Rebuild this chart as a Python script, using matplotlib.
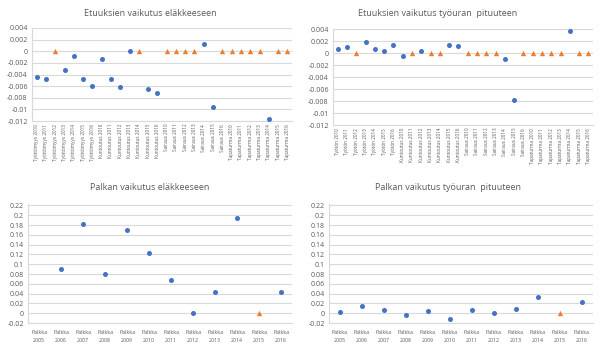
import numpy as np
from matplotlib import pyplot as plt
from matplotlib.ticker import FuncFormatter

nan = np.nan

# category labels
etu_cats1 = ([f"Työttömyys {y}" for y in range(2010, 2017)] +
             [f"Kuntoutus {y}" for y in range(2010, 2017)] +
             [f"Sairaus {y}" for y in range(2010, 2017)] +
             [f"Tapaturma {y}" for y in range(2010, 2017)])
etu_cats2 = ([f"Työtön {y}" for y in range(2010, 2017)] +
             [f"Kuntoutus {y}" for y in range(2010, 2017)] +
             [f"Sairaus {y}" for y in range(2010, 2017)] +
             [f"Tapaturma {y}" for y in range(2010, 2017)])
palkka_cats = [f"Palkka\n{y}" for y in range(2005, 2017)]

# Etuuksien vaikutus eläkkeeseen: blue = estimate, orange = zero/ns
etu_elake_est = [-0.0045, -0.0048, nan, -0.0033, -0.0008, -0.0047, -0.0060,
                 -0.0013, -0.0047, -0.0062, 0.0, nan, -0.0065, -0.0071,
                 nan, nan, nan, nan, 0.0012, -0.0096, nan,
                 nan, nan, nan, nan, -0.0116, nan, nan]
etu_elake_zero = [nan, nan, 0, nan, nan, nan, nan,
                  nan, nan, nan, nan, 0, nan, nan,
                  0, 0, 0, 0, nan, nan, 0,
                  0, 0, 0, 0, nan, 0, 0]

# Etuuksien vaikutus työuran pituuteen
etu_tyo_est = [0.0006, 0.0010, nan, 0.0019, 0.0007, 0.0003, 0.0014,
               -0.0005, nan, 0.0004, nan, nan, 0.0013, 0.0012,
               nan, nan, nan, nan, -0.0010, -0.0079, nan,
               nan, nan, nan, nan, 0.0037, nan, nan]
etu_tyo_zero = [nan, nan, 0, nan, nan, nan, nan,
                nan, 0, nan, 0, 0, nan, nan,
                0, 0, 0, 0, nan, nan, 0,
                0, 0, 0, 0, nan, 0, 0]

# Palkan vaikutus
palkka_elake_est = [nan, 0.090, 0.183, 0.081, 0.170, 0.122, 0.068, 0.001,
                    0.043, 0.195, nan, 0.044]
palkka_tyo_est = [0.003, 0.015, 0.006, -0.003, 0.005, -0.012, 0.006, 0.001,
                  0.008, 0.034, nan, 0.022]
palkka_zero = [nan, nan, nan, nan, nan, nan, nan, nan, nan, nan, 0, nan]

W, H = 602, 348
fig = plt.figure(figsize=(W / 100, H / 100), dpi=100)
plt.rcParams['font.family'] = ['Open Sans', 'DejaVu Sans']

BLUE = '#4472C4'
ORANGE = '#ED7D31'
GRID = '#D9D9D9'
TXT = '#595959'


def fmt(v, pos):
    v = round(v, 6)
    if v == 0:
        return "0"
    return f"{v:g}"


def make_ax(l, r, t, b):
    return fig.add_axes([l / W, 1 - b / H, (r - l) / W, (b - t) / H])


def style(ax, cats, ylo, yhi, step, rot, fs, xpad):
    ax.set_xlim(-0.5, len(cats) - 0.5)
    ax.set_ylim(ylo, yhi)
    ax.set_yticks(np.arange(ylo, yhi + step / 2, step))
    ax.yaxis.set_major_formatter(FuncFormatter(fmt))
    ax.set_xticks(range(len(cats)))
    ax.set_xticklabels(cats, rotation=rot, fontsize=fs, color=TXT,
                       linespacing=1.7)
    ax.tick_params(axis='y', labelsize=5, colors=TXT, length=0, pad=3)
    ax.tick_params(axis='x', length=0, pad=xpad)
    ax.grid(axis='y', color=GRID, linewidth=0.8)
    ax.set_axisbelow(True)
    for s in ['top', 'right']:
        ax.spines[s].set_visible(False)
    for s in ['left', 'bottom']:
        ax.spines[s].set_color(GRID)
        ax.spines[s].set_linewidth(0.8)


def draw(ax, est, zero):
    x = np.arange(len(est))
    ax.scatter(x, est, s=13, color=BLUE, marker='o', zorder=3, linewidths=0)
    ax.scatter(x, zero, s=15, color=ORANGE, marker='^', zorder=3, linewidths=0)


ax1 = make_ax(32, 292, 28, 121)
draw(ax1, etu_elake_est, etu_elake_zero)
style(ax1, etu_cats1, -0.012, 0.004, 0.002, 90, 3.3, 2)

ax2 = make_ax(333, 593, 29, 125)
draw(ax2, etu_tyo_est, etu_tyo_zero)
style(ax2, etu_cats2, -0.012, 0.004, 0.002, 90, 3.3, 2)

ax3 = make_ax(28, 292, 204, 323)
draw(ax3, palkka_elake_est, palkka_zero)
style(ax3, palkka_cats, -0.02, 0.22, 0.02, 0, 3.8, 5)
ax3.set_ylim(-0.02, 0.223)

ax4 = make_ax(329, 593, 204, 323)
draw(ax4, palkka_tyo_est, palkka_zero)
style(ax4, palkka_cats, -0.02, 0.22, 0.02, 0, 3.8, 5)
ax4.set_ylim(-0.02, 0.223)

fig.text(150 / W, 1 - 13 / H, "Etuuksien vaikutus eläkkeeseen",
         ha='center', va='center', fontsize=6.5, color=TXT)
fig.text(438 / W, 1 - 14 / H, "Etuuksien vaikutus työuran  pituuteen",
         ha='center', va='center', fontsize=6.5, color=TXT)
fig.text(150 / W, 1 - 187 / H, "Palkan vaikutus eläkkeeseen",
         ha='center', va='center', fontsize=6.5, color=TXT)
fig.text(448 / W, 1 - 187 / H, "Palkan vaikutus työuran  pituuteen",
         ha='center', va='center', fontsize=6.5, color=TXT)

fig.savefig('out.png', dpi=100)
